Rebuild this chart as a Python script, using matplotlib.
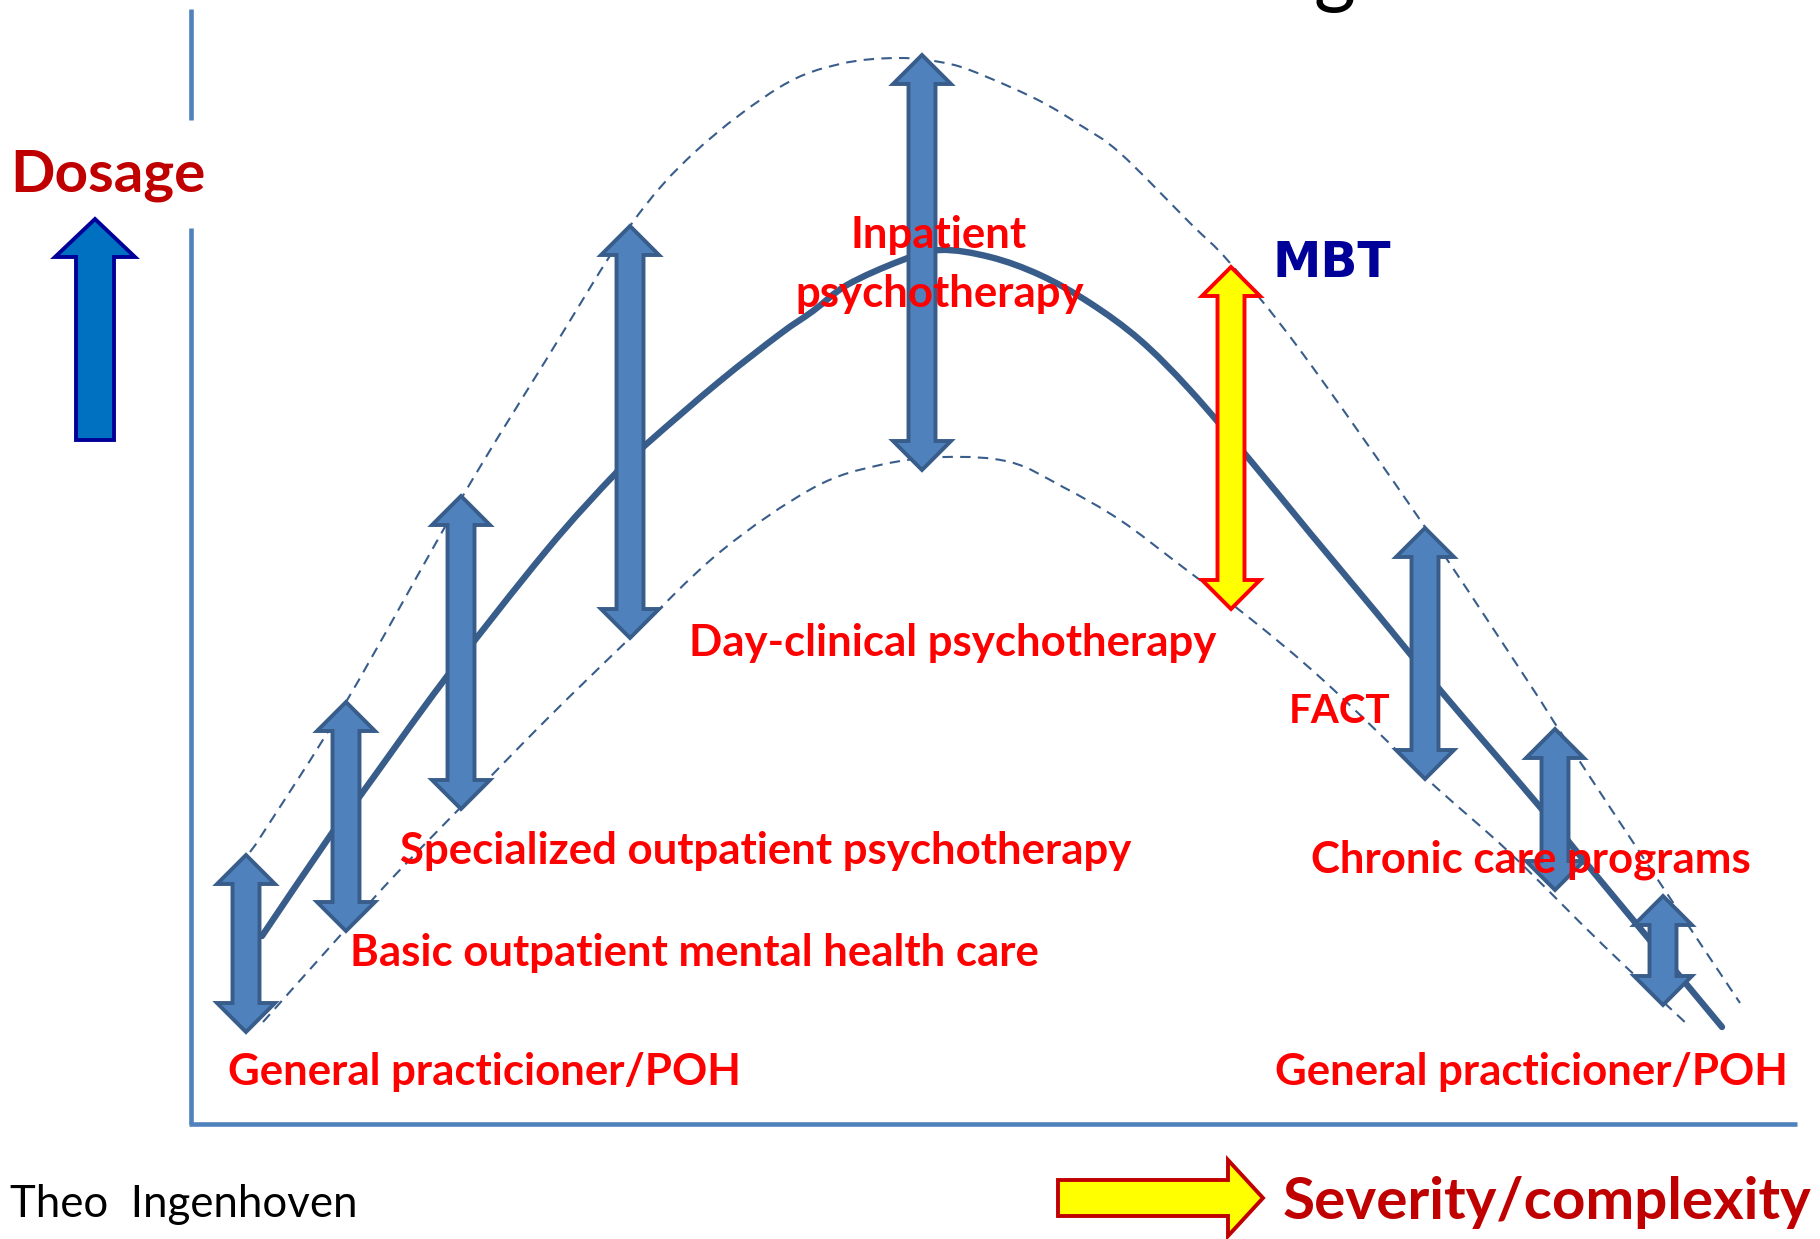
import numpy as np
import matplotlib.pyplot as plt
from matplotlib.patches import Polygon, PathPatch
from matplotlib.path import Path

W, H = 1820, 1239

# curves in pixel units (x right, y down)
mid_x = [262, 332, 360, 445, 546, 615, 650, 720, 780, 813, 847, 900, 940, 990,
         1040, 1090, 1140, 1190, 1250, 1310, 1375, 1440, 1540, 1600, 1722]
mid_y = [936, 833, 796, 679, 551, 474, 441, 381, 334, 311, 285, 261, 250, 257,
         275, 303, 340, 390, 460, 533, 611, 690, 807, 880, 1027]

upper_x = [250, 265, 346, 461, 546, 630, 696, 780, 840, 900, 950, 987, 1040, 1080,
           1120, 1190, 1230, 1300, 1425, 1527, 1567, 1660, 1740]
upper_y = [852, 830, 702, 499, 360, 226, 151, 87, 64, 58, 64, 77, 101, 125,
           153, 223, 263, 350, 527, 680, 742, 883, 1003]

lower_x = [263, 346, 397, 461, 546, 630, 720, 813, 880, 945, 1010, 1063, 1120,
           1180, 1252, 1323, 1427, 1510, 1603, 1688]
lower_y = [1022, 929, 873, 807, 720, 638, 552, 488, 465, 457, 462, 487, 520,
           565, 620, 680, 779, 853, 945, 1025]

# blue double arrows: x, top tip, bottom tip
arrow_x = [246, 346, 461, 630, 922, 1425, 1555, 1663]
arrow_top = [855, 702, 496, 226, 55, 528, 729, 896]
arrow_bot = [1032, 931, 809, 638, 470, 779, 890, 1005]

# MBT arrow
mbt_x, mbt_top, mbt_bot = 1231, 267, 609

labels = ["Inpatient", "psychotherapy", "Day-clinical psychotherapy",
          "Specialized outpatient psychotherapy",
          "Basic outpatient mental health care",
          "General practicioner/POH", "General practicioner/POH",
          "FACT", "Chronic care programs"]
label_x = [939, 940, 953, 766, 694, 484, 1531, 1340, 1531]
label_y = [248, 307, 656, 864, 966, 1085, 1085, 723, 873]


def double_arrow(x, top, bot, hw=29, sw=13.5, hl=29):
    return [(x, top), (x + hw, top + hl), (x + sw, top + hl), (x + sw, bot - hl),
            (x + hw, bot - hl), (x, bot), (x - hw, bot - hl), (x - sw, bot - hl),
            (x - sw, top + hl), (x - hw, top + hl)]


def smooth_path(xs, ys):
    # Catmull-Rom through the read points, drawn as cubic bezier pieces
    p = np.column_stack([xs, ys]).astype(float)
    verts = [p[0]]
    codes = [Path.MOVETO]
    n = len(p)
    for i in range(n - 1):
        p0 = p[i - 1] if i > 0 else p[i]
        p3 = p[i + 2] if i + 2 < n else p[i + 1]
        verts += [p[i] + (p[i + 1] - p0) / 6, p[i + 1] - (p3 - p[i]) / 6, p[i + 1]]
        codes += [Path.CURVE4] * 3
    return Path(verts, codes)


fig = plt.figure(figsize=(W / 100, H / 100), dpi=100)
ax = fig.add_axes([0, 0, 1, 1])
ax.set_xlim(0, W)
ax.set_ylim(H, 0)
ax.axis("off")

font = ["Lato", "DejaVu Sans"]

# axes of the diagram
ax.plot([191, 191], [9, 120], color="#4F81BD", lw=3.3, solid_capstyle="butt")
ax.plot([191, 191], [228, 1124], color="#4F81BD", lw=3.3, solid_capstyle="butt")
ax.plot([189, 1797], [1124, 1124], color="#4F81BD", lw=3.3, solid_capstyle="butt")

# cut-off title at the top
ax.text(1334, -3, "g", fontsize=58, family=font, color="black",
        ha="center", va="baseline")

# curves
for xs, ys in [(upper_x, upper_y), (lower_x, lower_y)]:
    ax.add_patch(PathPatch(smooth_path(xs, ys), fill=False, edgecolor="#385D8A",
                           lw=1.5, linestyle=(0, (5, 3.5)), zorder=1))
ax.add_patch(PathPatch(smooth_path(mid_x, mid_y), fill=False, edgecolor="#385D8A",
                       lw=4.6, capstyle="round", joinstyle="round", zorder=2))

# double arrows
for x, t, b in zip(arrow_x, arrow_top, arrow_bot):
    ax.add_patch(Polygon(double_arrow(x, t, b), closed=True, facecolor="#4F81BD",
                         edgecolor="#385D8A", lw=2.8, joinstyle="miter", zorder=3))
ax.add_patch(Polygon(double_arrow(mbt_x, mbt_top, mbt_bot), closed=True,
                     facecolor="#FFFF00", edgecolor="#FF0000", lw=2.8,
                     joinstyle="miter", zorder=3))

# dosage arrow (up)
ax.add_patch(Polygon([(95, 219), (135, 257), (114, 257), (114, 440), (76, 440),
                      (76, 257), (55, 257)], closed=True, facecolor="#0070C0",
                     edgecolor="#000099", lw=2.8, joinstyle="miter", zorder=3))
# severity arrow (right)
ax.add_patch(Polygon([(1058, 1180), (1228, 1180), (1228, 1160), (1263, 1198),
                      (1228, 1236), (1228, 1216), (1058, 1216)], closed=True,
                     facecolor="#FFFF00", edgecolor="#C00000", lw=2.8,
                     joinstyle="miter", zorder=3))

# labels
for s, x, y in zip(labels, label_x, label_y):
    ax.text(x, y, s, fontsize=29 if s == "FACT" else 31.5, family=font,
            fontweight="bold", color="#FF0000", ha="center", va="baseline",
            zorder=4)

ax.text(1332, 277, "MBT", fontsize=35, family="DejaVu Sans", fontweight="bold",
        color="#000099", ha="center", va="baseline", zorder=4)
ax.text(108, 192, "Dosage", fontsize=42, family=font, fontweight="bold",
        color="#C00000", ha="center", va="baseline", zorder=4)
ax.text(1547, 1219, "Severity/complexity", fontsize=42, family=font,
        fontweight="bold", color="#C00000", ha="center", va="baseline", zorder=4)
ax.text(10, 1217, "Theo  Ingenhoven", fontsize=31.5, family=font, color="black",
        ha="left", va="baseline", zorder=4)

fig.savefig("out.png", dpi=100)
